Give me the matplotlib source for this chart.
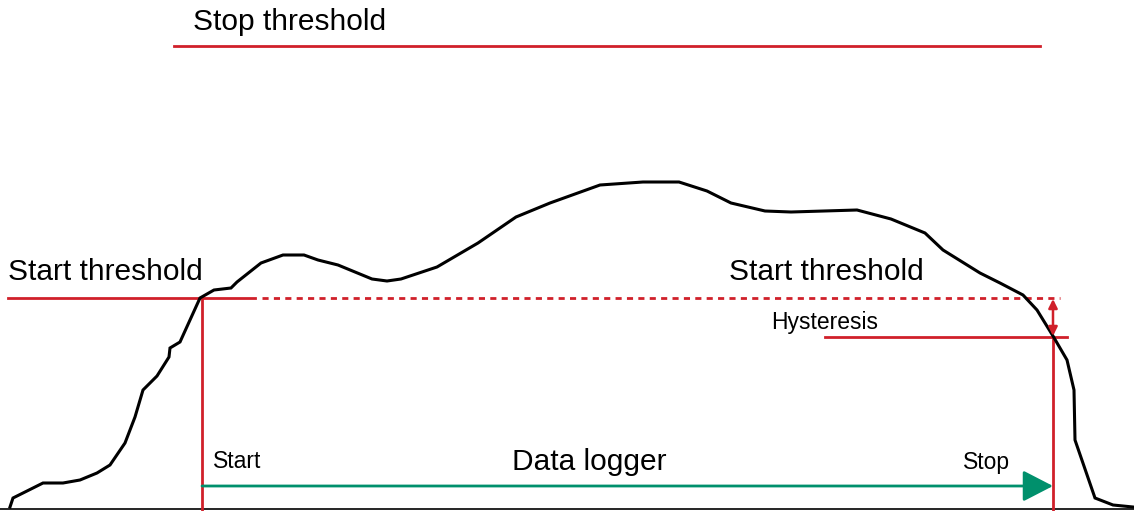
import numpy as np
import matplotlib
matplotlib.use("Agg")
import matplotlib.pyplot as plt

plt.rcParams['font.family'] = ['Liberation Sans', 'DejaVu Sans']

# signal curve (x to the right, y downwards in pixels)
curve_x = [10, 13, 43, 63, 80, 97, 110, 125, 135, 143, 157, 169, 170, 180, 200,
           214, 231, 237, 261, 283, 304, 318, 338, 372, 387, 401, 437, 478, 516,
           550, 600, 643, 679, 707, 731, 765, 791, 857, 891, 925, 943, 980, 1000,
           1023, 1037, 1053, 1067, 1074, 1075, 1095, 1113, 1133]
curve_y = [507, 498, 483, 483, 480, 473, 465, 443, 417, 390, 376, 357, 348, 342, 298,
           290, 288, 282, 263, 255, 255, 260, 265, 279, 281, 279, 267, 243, 217,
           203, 185, 182, 182, 191, 203, 211, 212, 210, 219, 233, 250, 273, 283,
           295, 310, 336, 360, 390, 440, 498, 505, 507]

stop_level = 46
start_level = 298
hyst_level = 337
start_x = 202
stop_x = 1053
logger_y = 486

red = '#d0202a'
green = '#00906c'

fig = plt.figure(figsize=(11.34, 5.11), dpi=100)
ax = fig.add_axes([0, 0, 1, 1])
ax.set_xlim(0, 1134)
ax.set_ylim(511, 0)
ax.axis('off')

# baseline
ax.plot([0, 1134], [509.5, 509.5], color='black', lw=1.2)

# stop threshold
ax.plot([174, 1040], [stop_level, stop_level], color=red, lw=2)
ax.text(193, 22, "Stop threshold", fontsize=21.5, va='center', ha='left')

# start threshold (solid then dashed)
ax.plot([8, 255], [start_level, start_level], color=red, lw=2)
ax.plot([262, 1060], [start_level, start_level], color=red, lw=2,
        linestyle=(0, (2.2, 1.9)))
ax.text(8, 272, "Start threshold", fontsize=21.5, va='center', ha='left')
ax.text(729, 272, "Start threshold", fontsize=21.5, va='center', ha='left')

# hysteresis
ax.plot([825, 1067], [hyst_level, hyst_level], color=red, lw=2)
ax.text(771, 323, "Hysteresis", fontsize=16.5, va='center', ha='left')
ax.annotate("", xy=(stop_x, start_level + 1), xytext=(stop_x, hyst_level - 1),
            arrowprops=dict(arrowstyle='<|-|>', color=red, lw=1.8,
                            mutation_scale=13, shrinkA=0, shrinkB=0))

# start / stop markers
ax.plot([start_x, start_x], [start_level, 511], color=red, lw=2)
ax.plot([stop_x, stop_x], [hyst_level, 511], color=red, lw=2)

# signal
ax.plot(curve_x, curve_y, color='black', lw=2.2, solid_joinstyle='miter')

# data logger arrow
ax.annotate("", xy=(stop_x, logger_y), xytext=(start_x, logger_y),
            arrowprops=dict(arrowstyle='-|>,head_length=0.62,head_width=0.32',
                            color=green, lw=2,
                            mutation_scale=30, shrinkA=0, shrinkB=0))
ax.text(213, 462, "Start", fontsize=16.5, va='center', ha='left')
ax.text(963, 462, "Stop", fontsize=16.5, va='center', ha='left')
ax.text(589, 462, "Data logger", fontsize=21.5, va='center', ha='center')

fig.savefig("out.png", dpi=100)
